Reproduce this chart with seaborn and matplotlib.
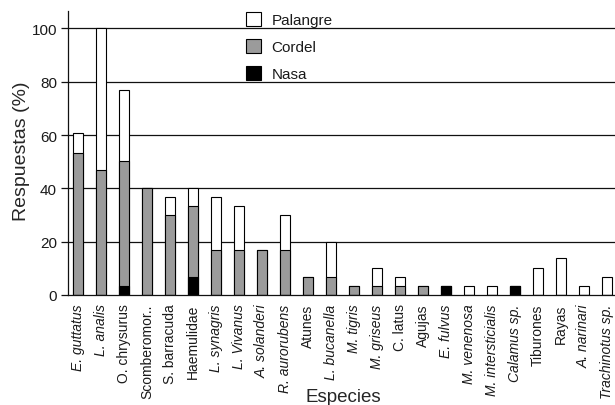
import matplotlib
matplotlib.use("Agg")
import matplotlib.pyplot as plt
import seaborn as sns
import pandas as pd
import numpy as np
from matplotlib.patches import Patch

# Species (x categories)
species = ["E. guttatus", "L. analis", "O. chrysurus", "Scomberomor..", "S. barracuda",
           "Haemulidae", "L. synagris", "L. Vivanus", "A. solanderi", "R. aurorubens",
           "Atunes", "L. bucanella", "M. tigris", "M. griseus", "C. latus", "Agujas",
           "E. fulvus", "M. venenosa", "M. intersticialis", "Calamus sp.", "Tiburones",
           "Rayas", "A. narinari", "Trachinotus sp."]
italic_names = ["E. guttatus", "L. analis", "L. synagris", "L. Vivanus", "A. solanderi",
                "R. aurorubens", "L. bucanella", "M. tigris", "M. griseus", "E. fulvus",
                "M. venenosa", "M. intersticialis", "Calamus sp.", "A. narinari",
                "Trachinotus sp."]

# Responses (%) per fishing gear
nasa = [0, 0, 3.3, 0, 0, 6.7, 0, 0, 0, 0, 0, 0, 0, 0, 0, 0,
        3.3, 0, 0, 3.3, 0, 0, 0, 0]
cordel = [53.3, 46.7, 47.0, 40.0, 30.0, 26.7, 16.7, 16.7, 16.7, 16.7, 6.7, 6.7,
          3.3, 3.3, 3.3, 3.3, 0, 0, 0, 0, 0, 0, 0, 0]
palangre = [7.5, 53.3, 26.7, 0, 6.7, 6.7, 20.0, 16.7, 0, 13.3, 0, 13.3,
            0, 6.7, 3.3, 0, 0, 3.3, 3.3, 0, 10.0, 14.0, 3.3, 6.7]

yticks = [0, 20, 40, 60, 80, 100]

df = pd.DataFrame({"Especie": species, "Nasa": nasa, "Cordel": cordel, "Palangre": palangre})
df["lvl_nasa"] = df["Nasa"]
df["lvl_cordel"] = df["Nasa"] + df["Cordel"]
df["lvl_total"] = df["lvl_cordel"] + df["Palangre"]

sns.set_style("white")
plt.rcParams["font.family"] = ["Liberation Sans", "DejaVu Sans"]
plt.rcParams["text.color"] = "#1a1a1a"

fig = plt.figure(figsize=(6.15, 4.06), dpi=100)
ax = fig.add_axes([68 / 615, 110 / 406, 1 - 68 / 615, (296 - 12) / 406])

ax.set_axisbelow(True)
for t in yticks[1:]:
    ax.axhline(t, color="#111111", lw=0.9, zorder=0)

# Stacked bars drawn as overlapping cumulative levels, tallest first
colors = {"lvl_total": "white", "lvl_cordel": "#9b9b9b", "lvl_nasa": "black"}
for col in ["lvl_total", "lvl_cordel", "lvl_nasa"]:
    sns.barplot(data=df, x="Especie", y=col, order=species, color=colors[col],
                saturation=1, width=0.42, edgecolor="black", linewidth=0.8, ax=ax,
                errorbar=None)

ax.set_xlim(-0.435, 23.35)
ax.set_ylim(0, 106.5)
ax.set_yticks(yticks)
ax.set_yticklabels([str(t) for t in yticks], fontsize=11, color="#1a1a1a")
ax.tick_params(axis="y", direction="out", length=5, width=0.9, color="#111111", pad=3, left=True)
ax.tick_params(axis="x", length=0, pad=6)

ax.set_xticks(range(len(species)))
ax.set_xticklabels(species, rotation=90, fontsize=10, color="#1a1a1a")
for lab in ax.get_xticklabels():
    if lab.get_text() in italic_names:
        lab.set_fontstyle("italic")

for s in ["top", "right"]:
    ax.spines[s].set_visible(False)
for s in ["left", "bottom"]:
    ax.spines[s].set_color("#111111")
    ax.spines[s].set_linewidth(0.9)

ax.set_ylabel("Respuestas (%)", fontsize=14)
ax.yaxis.set_label_coords(-0.07, 0.511)
ax.set_xlabel("Especies", fontsize=13.5)
ax.xaxis.set_label_coords(0.503, -0.327)

handles = [Patch(facecolor="white", edgecolor="black", lw=0.8, label="Palangre"),
           Patch(facecolor="#9b9b9b", edgecolor="black", lw=0.8, label="Cordel"),
           Patch(facecolor="black", edgecolor="black", lw=0.8, label="Nasa")]
fig.legend(handles=handles, loc="upper left", bbox_to_anchor=(243 / 615, 1 - 10 / 406),
           frameon=False, fontsize=11, handlelength=0.95, handleheight=1.0,
           handletextpad=0.7, labelspacing=0.78, borderaxespad=0, borderpad=0.2)

fig.savefig("out.png", dpi=100)
